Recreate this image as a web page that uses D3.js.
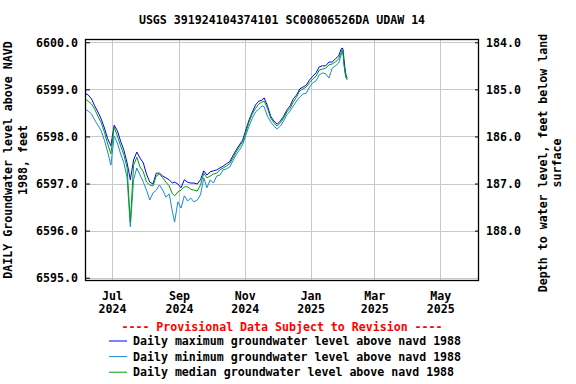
<!DOCTYPE html>
<html><head><meta charset="utf-8">
<script src="https://cdn.jsdelivr.net/npm/d3@7"></script>
<style>
body{margin:0;background:#fff;}
text{font-family:"DejaVu Sans Mono",monospace;font-weight:bold;font-size:11.6px;}
</style></head>
<body><svg id="c" width="576" height="384"></svg>
<script>
const title = "USGS 391924104374101 SC00806526DA UDAW 14";
const leftTitle = ["DAILY Groundwater level above NAVD", "1988, feet"];
const rightTitle = ["Depth to water level, feet below land", "surface"];
const yTicks = [6595, 6596, 6597, 6598, 6599, 6600];
const depthTicks = [184, 185, 186, 187, 188];
const landSurface = 6784; // depth = landSurface - elevation
const xTickDates = ["2024-07-01","2024-09-01","2024-11-01","2025-01-01","2025-03-01","2025-05-01"];
const xTickLabels = [["Jul","2024"],["Sep","2024"],["Nov","2024"],["Jan","2025"],["Mar","2025"],["May","2025"]];
const provisional = "---- Provisional Data Subject to Revision ----";
const legendNames = ["Daily maximum groundwater level above navd 1988",
                     "Daily minimum groundwater level above navd 1988",
                     "Daily median groundwater level above navd 1988"];
const colors = ["#0000ff", "#1a8ad4", "#00a000"];

const dates = ["2024-06-06","2024-06-09","2024-06-12","2024-06-15","2024-06-18","2024-06-21","2024-06-24","2024-06-27","2024-06-30",
"2024-07-03","2024-07-06","2024-07-09","2024-07-12","2024-07-15","2024-07-18","2024-07-21","2024-07-24","2024-07-27","2024-07-30",
"2024-08-02","2024-08-05","2024-08-08","2024-08-11","2024-08-14","2024-08-17","2024-08-20","2024-08-23","2024-08-26","2024-08-28","2024-08-31",
"2024-09-03","2024-09-06","2024-09-09","2024-09-12","2024-09-15","2024-09-18","2024-09-21","2024-09-24","2024-09-27","2024-09-30",
"2024-10-03","2024-10-06","2024-10-09","2024-10-12","2024-10-15","2024-10-18","2024-10-21","2024-10-24","2024-10-27","2024-10-30",
"2024-11-02","2024-11-05","2024-11-08","2024-11-11","2024-11-14","2024-11-17","2024-11-19","2024-11-22","2024-11-25","2024-11-28",
"2024-12-01","2024-12-04","2024-12-07","2024-12-10","2024-12-13","2024-12-16","2024-12-19","2024-12-22","2024-12-25","2024-12-28","2024-12-31",
"2025-01-03","2025-01-06","2025-01-09","2025-01-12","2025-01-15","2025-01-18","2025-01-21","2025-01-24","2025-01-27","2025-01-29","2025-01-30","2025-01-31",
"2025-02-01","2025-02-02","2025-02-03","2025-02-04"];

const maxVals = [6598.92,6598.88,6598.80,6598.65,6598.52,6598.37,6598.18,6597.95,6597.80,
6598.24,6598.12,6597.90,6597.71,6597.44,6597.08,6597.50,6597.67,6597.54,6597.44,
6597.20,6597.03,6596.99,6597.22,6597.22,6597.16,6597.12,6597.08,6597.01,6597.03,6596.99,
6596.91,6597.08,6597.03,6597.01,6597.01,6596.99,6597.08,6597.27,6597.18,6597.25,
6597.27,6597.29,6597.33,6597.37,6597.42,6597.46,6597.59,6597.71,6597.82,6597.92,
6598.14,6598.35,6598.52,6598.67,6598.75,6598.77,6598.82,6598.65,6598.43,6598.33,
6598.26,6598.33,6598.43,6598.56,6598.65,6598.80,6598.88,6599.01,6599.05,6599.09,6599.20,
6599.28,6599.35,6599.48,6599.50,6599.50,6599.58,6599.58,6599.65,6599.71,6599.84,6599.88,6599.86,
6599.62,6599.41,6599.28,6599.24];

const minVals = [6598.58,6598.54,6598.48,6598.35,6598.24,6598.12,6597.92,6597.67,6597.39,
6598.01,6597.86,6597.63,6597.44,6597.12,6596.08,6597.08,6597.33,6597.18,6597.03,
6596.86,6596.65,6596.80,6596.86,6596.97,6596.86,6596.71,6596.78,6596.40,6596.18,6596.61,
6596.48,6596.74,6596.63,6596.69,6596.61,6596.65,6596.76,6597.12,6596.91,6597.08,
6597.01,6597.16,6597.18,6597.29,6597.31,6597.35,6597.48,6597.61,6597.71,6597.82,
6598.03,6598.22,6598.39,6598.52,6598.58,6598.65,6598.63,6598.43,6598.31,6598.22,
6598.16,6598.22,6598.33,6598.46,6598.54,6598.65,6598.75,6598.84,6598.90,6598.92,6599.05,
6599.14,6599.18,6599.31,6599.35,6599.33,6599.24,6599.45,6599.50,6599.56,6599.71,6599.79,6599.77,
6599.52,6599.33,6599.24,6599.20];

const medVals = [6598.80,6598.75,6598.69,6598.58,6598.43,6598.29,6598.09,6597.84,6597.63,
6598.20,6598.01,6597.80,6597.61,6597.33,6596.18,6597.39,6597.56,6597.35,6597.25,
6597.03,6596.97,6596.95,6597.16,6597.20,6597.12,6597.03,6596.95,6596.78,6596.74,6596.82,
6596.86,6596.93,6596.93,6596.88,6596.86,6596.84,6596.97,6597.22,6597.12,6597.16,
6597.20,6597.22,6597.29,6597.33,6597.37,6597.42,6597.54,6597.67,6597.78,6597.88,
6598.09,6598.31,6598.48,6598.60,6598.69,6598.73,6598.75,6598.60,6598.39,6598.29,
6598.22,6598.29,6598.39,6598.52,6598.60,6598.73,6598.84,6598.97,6599.01,6599.05,6599.14,
6599.22,6599.28,6599.41,6599.43,6599.45,6599.52,6599.54,6599.58,6599.65,6599.77,6599.84,6599.79,
6599.52,6599.37,6599.24,6599.22];

const parse = d3.utcParse("%Y-%m-%d");
const svg = d3.select("#c");
const L = 85, R = 479, T = 39, B = 281;
const x = d3.scaleUtc().domain([parse("2024-06-06"), parse("2025-06-06")]).range([L, R]);
const y = d3.scaleLinear().domain([6594.93, 6600.07]).range([B, T]);
const yDepth = d3.scaleLinear().domain([landSurface - 6594.93, landSurface - 6600.07]).range([B, T]);

// gridlines
svg.append("g").attr("transform", `translate(${L},0)`)
  .call(d3.axisLeft(y).tickValues(yTicks).tickSize(-(R - L)).tickFormat(""))
  .call(g => g.select(".domain").remove())
  .call(g => g.selectAll("line").attr("stroke", "#c8c8c8").attr("shape-rendering", "crispEdges"));
svg.append("g").attr("transform", `translate(0,${B})`)
  .call(d3.axisBottom(x).tickValues(xTickDates.map(parse)).tickSize(-(B - T)).tickFormat(""))
  .call(g => g.select(".domain").remove())
  .call(g => g.selectAll("line").attr("stroke", "#c8c8c8").attr("shape-rendering", "crispEdges"));

// lines
const series = [
  {vals: maxVals, color: colors[0]},
  {vals: minVals, color: colors[1]},
  {vals: medVals, color: colors[2]}
];
const line = d3.line().x(d => x(d.date)).y(d => y(d.v));
const order = [1, 0, 2];
order.forEach(i => {
  const s = series[i];
  const data = dates.map((d, j) => ({date: parse(d), v: s.vals[j]}));
  svg.append("path").datum(data).attr("d", line)
    .attr("fill", "none").attr("stroke", s.color).attr("stroke-width", 1);
});

// frame
svg.append("rect").attr("x", L + 0.5).attr("y", T + 0.5).attr("width", R - L - 1).attr("height", B - T - 1)
  .attr("fill", "none").attr("stroke", "#000").attr("stroke-width", 1.3);

// left axis
svg.append("g").attr("transform", `translate(${L},0)`)
  .call(d3.axisLeft(y).tickValues(yTicks).tickSize(-5).tickPadding(7).tickFormat(d3.format(".1f")))
  .call(g => g.select(".domain").remove())
  .call(g => g.selectAll("text").attr("font-family", null).attr("font-size", null).attr("fill", "#000"))
  .call(g => g.selectAll("line").attr("stroke", "#000"));

// right axis
svg.append("g").attr("transform", `translate(${R},0)`)
  .call(d3.axisRight(yDepth).tickValues(depthTicks).tickSize(-4).tickPadding(7).tickFormat(d3.format(".1f")))
  .call(g => g.select(".domain").remove())
  .call(g => g.selectAll("text").attr("font-family", null).attr("font-size", null).attr("fill", "#000"))
  .call(g => g.selectAll("line").attr("stroke", "#000"));

// bottom axis labels
const bx = svg.append("g").attr("transform", `translate(0,${B})`)
  .call(d3.axisBottom(x).tickValues(xTickDates.map(parse)).tickSize(0).tickFormat(""))
  .call(g => g.select(".domain").remove());
bx.selectAll(".tick").each(function(d, i) {
  const t = d3.select(this).select("text").attr("font-family", null).attr("font-size", null)
    .attr("fill", "#000").attr("y", 0).attr("dy", null);
  t.append("tspan").attr("x", 0).attr("y", 19).text(xTickLabels[i][0]);
  t.append("tspan").attr("x", 0).attr("y", 32).text(xTickLabels[i][1]);
});

// titles
svg.append("text").attr("x", 282).attr("y", 24).attr("text-anchor", "middle").text(title);
leftTitle.forEach((t, i) => {
  svg.append("text").attr("transform", `translate(${12 + i * 14.5},160) rotate(-90)`)
    .attr("text-anchor", "middle").text(t);
});
rightTitle.forEach((t, i) => {
  svg.append("text").attr("transform", `translate(${547 + i * 14},163) rotate(-90)`)
    .attr("text-anchor", "middle").text(t);
});

// legend
svg.append("text").attr("x", 282).attr("y", 331).attr("text-anchor", "middle").attr("fill", "#ff0000").text(provisional);
legendNames.forEach((n, i) => {
  const yy = 341 + i * 15.6;
  svg.append("line").attr("x1", 109).attr("x2", 127).attr("y1", yy).attr("y2", yy)
    .attr("stroke", colors[i]).attr("stroke-width", 1);
  svg.append("text").attr("x", 133).attr("y", yy + 4).text(n);
});
</script></body></html>
